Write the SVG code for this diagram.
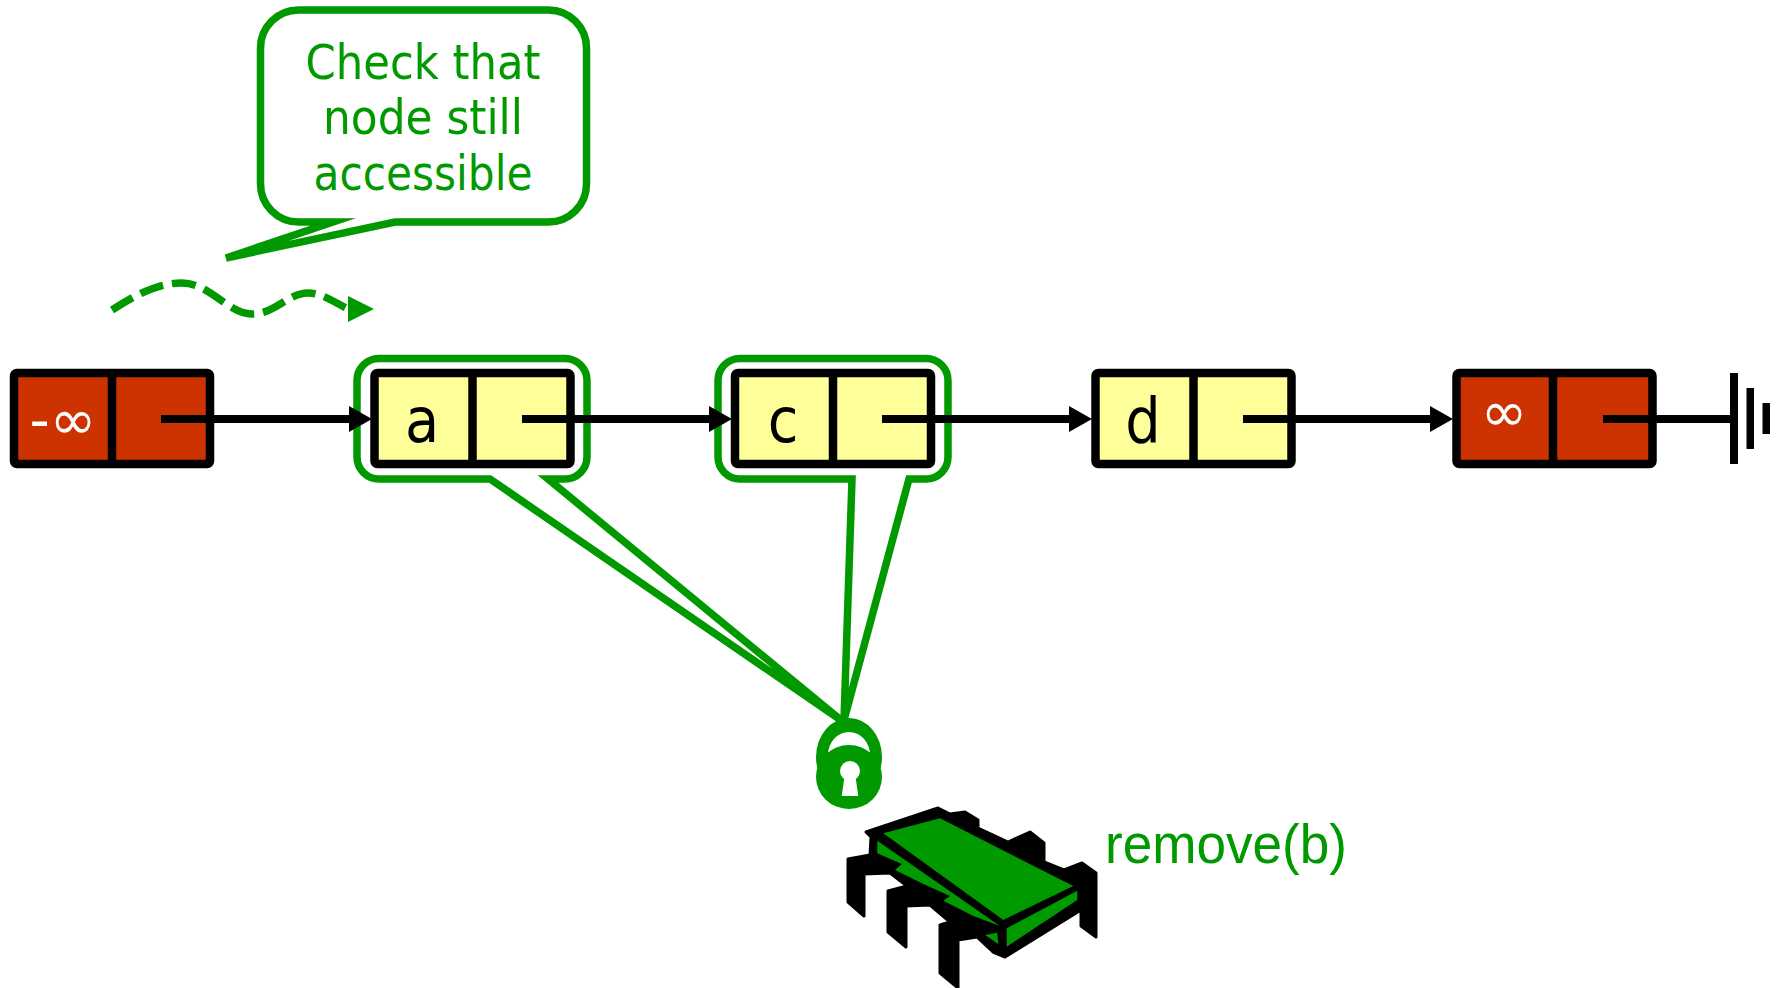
<svg xmlns="http://www.w3.org/2000/svg" width="1783" height="988" viewBox="0 0 1783 988">
  <defs>
    <style>
      .cell { stroke: #000; stroke-width: 8.5; stroke-linejoin: round; }
      .sentinel { fill: #CC3300; }
      .item { fill: #FFFF99; }
      .div { stroke: #000; stroke-width: 8.5; }
      .link { stroke: #000; stroke-width: 8; fill: none; }
      .head { fill: #000; }
      .callout { fill: #fff; stroke: #009900; stroke-width: 7.5; stroke-linejoin: miter; stroke-miterlimit: 10; }
      .label { font-family: "DejaVu Sans Condensed", "DejaVu Sans", sans-serif; font-stretch: condensed; font-size: 62px; fill: #000; text-anchor: middle; }
      .inf { font-family: "DejaVu Sans", sans-serif; font-size: 56px; fill: #fff; text-anchor: middle; }
      .note { font-family: "DejaVu Sans Condensed", "DejaVu Sans", sans-serif; font-stretch: condensed; font-size: 48px; fill: #009900; text-anchor: middle; }
      .op { font-family: "Liberation Sans", Arial, sans-serif; font-size: 55px; fill: #009900; }
      .green { fill: #009900; }
    </style>
  </defs>

  <rect width="1783" height="988" fill="#fff"/>

  <!-- speech bubble -->
  <g id="bubble">
    <path class="callout" d="M 298.5,10 H 548.5 A 38 38 0 0 1 586.5 48 V 184 A 38 38 0 0 1 548.5 222 H 395 L 226 258 L 333 222 H 298.5 A 38 38 0 0 1 260.5 184 V 48 A 38 38 0 0 1 298.5 10 Z"/>
    <text class="note" x="423" y="79" textLength="235" lengthAdjust="spacingAndGlyphs">Check that</text>
    <text class="note" x="423" y="134" textLength="200" lengthAdjust="spacingAndGlyphs">node still</text>
    <text class="note" x="423" y="190" textLength="219" lengthAdjust="spacingAndGlyphs">accessible</text>
  </g>

  <!-- traversal path -->
  <g id="traversal">
    <path d="M 112 310 C 140 292, 160 283, 182 283 C 210 283, 228 314, 252 314 C 275 314, 288 293, 308 293 C 322 293, 334 302, 346 308" fill="none" stroke="#009900" stroke-width="7.5" stroke-dasharray="24 9"/>
    <polygon class="green" points="348,296 374,309 348,322"/>
  </g>

  <!-- lock callouts around a and c -->
  <g id="lock-a">
    <path class="callout" d="M 379,358.5 H 565 A 22 22 0 0 1 587 380.5 V 457 A 22 22 0 0 1 565 479 H 548 L 842 721 L 490 479 H 379 A 22 22 0 0 1 357 457 V 380.5 A 22 22 0 0 1 379 358.5 Z"/>
  </g>
  <g id="lock-c">
    <path class="callout" d="M 740,358.5 H 926 A 22 22 0 0 1 948 380.5 V 457 A 22 22 0 0 1 926 479 H 909 L 844 720 L 852 479 H 740 A 22 22 0 0 1 718 457 V 380.5 A 22 22 0 0 1 740 358.5 Z"/>
  </g>

  <!-- list nodes -->
  <g id="node-head">
    <rect class="cell sentinel" x="14" y="373" width="196" height="91" rx="3"/>
    <line class="div" x1="112" y1="373" x2="112" y2="464"/>
    <text class="inf" x="63" y="439">-∞</text>
  </g>
  <g id="node-a">
    <rect class="cell item" x="374.5" y="373" width="196" height="91" rx="3"/>
    <line class="div" x1="472.5" y1="373" x2="472.5" y2="464"/>
    <text class="label" x="422" y="442">a</text>
  </g>
  <g id="node-c">
    <rect class="cell item" x="735" y="373" width="196" height="91" rx="3"/>
    <line class="div" x1="833" y1="373" x2="833" y2="464"/>
    <text class="label" x="783" y="442">c</text>
  </g>
  <g id="node-d">
    <rect class="cell item" x="1095.5" y="373" width="196" height="91" rx="3"/>
    <line class="div" x1="1193.5" y1="373" x2="1193.5" y2="464"/>
    <text class="label" x="1143" y="442">d</text>
  </g>
  <g id="node-tail">
    <rect class="cell sentinel" x="1456.5" y="373" width="196" height="91" rx="3"/>
    <line class="div" x1="1553" y1="373" x2="1553" y2="464"/>
    <text class="inf" x="1504" y="431">∞</text>
  </g>

  <!-- next pointers -->
  <g id="connectors">
    <line class="link" x1="161" y1="419" x2="352" y2="419"/>
    <polygon class="head" points="349,406 372,419 349,432"/>
    <line class="link" x1="522" y1="419" x2="712" y2="419"/>
    <polygon class="head" points="709,406 732,419 709,432"/>
    <line class="link" x1="882" y1="419" x2="1072" y2="419"/>
    <polygon class="head" points="1069,406 1092,419 1069,432"/>
    <line class="link" x1="1243" y1="419" x2="1433" y2="419"/>
    <polygon class="head" points="1430,406 1453,419 1430,432"/>
    <line class="link" x1="1603" y1="419" x2="1732" y2="419"/>
    <!-- null terminator -->
    <rect x="1730" y="373" width="8" height="91" fill="#000"/>
    <rect x="1746.5" y="388" width="7.5" height="61" fill="#000"/>
    <rect x="1762.5" y="403" width="7.5" height="31" fill="#000"/>
  </g>

  <!-- padlock -->
  <g id="lock">
    <ellipse class="green" cx="849" cy="757" rx="33" ry="39"/>
    <ellipse cx="849" cy="755" rx="21" ry="23" fill="#fff"/>
    <ellipse class="green" cx="849" cy="777" rx="33" ry="32"/>
    <circle cx="850" cy="771" r="10" fill="#fff"/>
    <polygon points="844.3,778 855.7,778 858.3,796 841.7,796" fill="#fff"/>
  </g>

  <!-- thread (bug) -->
  <g id="thread">
    <polygon fill="#000" stroke="#000" stroke-width="3" stroke-linejoin="round" points="866,832 938,808 950,814 965,812 978,820 978,828 1008,842 1030,832 1044,843 1044,862 1064,870 1082,863 1096,873 1096,937 1081,926 1081,910 1005,957 993,952 977,937 958,940 958,988 940,973 940,925 950,922 930,905 906,906 906,947 888,932 888,891 907,886 890,873 864,874 864,916 848,902 848,859 870,855 871,837"/>
    <polygon class="green" points="883.3,833.3 940,818.3 1073.3,886 1003.3,920"/>
    <polygon class="green" points="877.3,840.7 1000,926 973.3,916 943.3,900.7 950,896 923.3,884 895,870 901.7,864 877.3,853.3"/>
    <polygon class="green" points="985,935 997.3,932.7 998.3,944"/>
    <polygon class="green" points="1006.7,928.3 1077.3,890.7 1077.3,900 1006.7,946.7"/>
  </g>

  <text class="op" x="1105" y="863" textLength="242" lengthAdjust="spacingAndGlyphs">remove(b)</text>
</svg>
